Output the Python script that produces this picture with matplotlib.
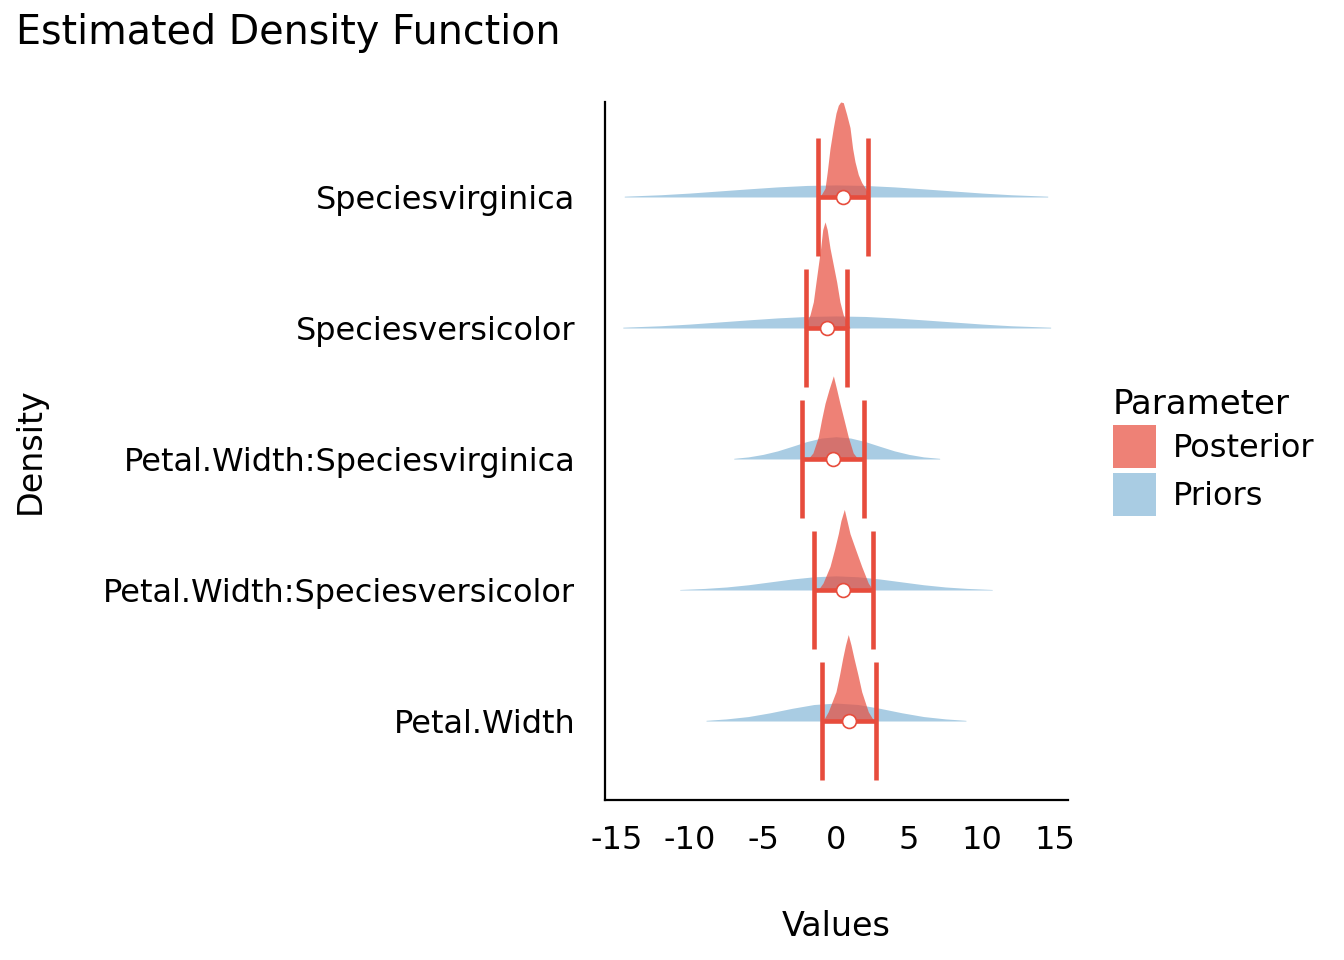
import matplotlib
matplotlib.use("Agg")
import matplotlib.pyplot as plt
from matplotlib.patches import Patch

plt.rcParams['font.family'] = ['DejaVu Sans']
plt.rcParams['axes.unicode_minus'] = False

# ---------------- data ----------------
parameters = ["Petal.Width", "Petal.Width:Speciesversicolor",
              "Petal.Width:Speciesvirginica", "Speciesversicolor",
              "Speciesvirginica"]

# priors: x (values) and scaled density height (1 = row spacing)
prior_x = {
    "Speciesvirginica": [-14.5, -12, -10, -8, -6, -4, -2, 0, 2, 4, 6, 8, 10, 12, 14.5],
    "Speciesversicolor": [-14.6, -12, -10, -8, -6, -4, -2, 0, 2, 4, 6, 8, 10, 12, 14.7],
    "Petal.Width:Speciesvirginica": [-7.0, -6, -5, -4, -3, -2, -1, 0, 1, 2, 3, 4, 5, 6, 7.1],
    "Petal.Width:Speciesversicolor": [-10.7, -9, -7.5, -6, -4.5, -3, -1.5, 0, 1.5, 3, 4.5, 6, 7.5, 9, 10.7],
    "Petal.Width": [-8.9, -7.5, -6, -4.5, -3, -1.5, 0, 1.5, 3, 4.5, 6, 7.5, 8.9],
}
prior_h = {
    "Speciesvirginica": [0.006, 0.017, 0.030, 0.046, 0.062, 0.077, 0.088, 0.092, 0.088, 0.077, 0.062, 0.046, 0.030, 0.017, 0.006],
    "Speciesversicolor": [0.006, 0.017, 0.030, 0.046, 0.062, 0.077, 0.088, 0.092, 0.088, 0.077, 0.062, 0.046, 0.030, 0.017, 0.006],
    "Petal.Width:Speciesvirginica": [0.005, 0.016, 0.035, 0.062, 0.097, 0.133, 0.160, 0.170, 0.160, 0.133, 0.097, 0.062, 0.035, 0.016, 0.005],
    "Petal.Width:Speciesversicolor": [0.004, 0.012, 0.023, 0.040, 0.062, 0.084, 0.101, 0.108, 0.101, 0.084, 0.062, 0.040, 0.023, 0.012, 0.004],
    "Petal.Width": [0.005, 0.016, 0.034, 0.063, 0.097, 0.126, 0.137, 0.126, 0.097, 0.063, 0.034, 0.016, 0.005],
}

# posteriors
post_x = {
    "Speciesvirginica": [-1.10, -0.75, -0.60, -0.41, -0.18, 0.0, 0.16, 0.32, 0.50, 0.73, 0.96, 1.14, 1.30, 1.53, 1.76, 1.99, 2.33],
    "Speciesversicolor": [-2.19, -1.78, -1.55, -1.37, -1.21, -1.05, -0.91, -0.75, -0.60, -0.41, -0.18, 0.05, 0.27, 0.50, 0.96],
    "Petal.Width:Speciesvirginica": [-1.92, -1.58, -1.21, -0.99, -0.75, -0.48, -0.18, 0.05, 0.27, 0.55, 0.84, 1.18, 1.51],
    "Petal.Width:Speciesversicolor": [-1.23, -0.89, -0.41, -0.10, 0.16, 0.34, 0.57, 0.75, 0.96, 1.34, 1.76, 2.21, 2.53],
    "Petal.Width": [-0.89, -0.53, 0.0, 0.24, 0.46, 0.65, 0.84, 1.03, 1.23, 1.51, 1.76, 2.21, 2.60],
}
post_h = {
    "Speciesvirginica": [0, 0.066, 0.19, 0.37, 0.53, 0.64, 0.70, 0.725, 0.72, 0.63, 0.53, 0.37, 0.27, 0.17, 0.11, 0.07, 0],
    "Speciesversicolor": [0, 0.10, 0.20, 0.35, 0.48, 0.61, 0.75, 0.81, 0.75, 0.61, 0.48, 0.35, 0.20, 0.10, 0],
    "Petal.Width:Speciesvirginica": [0, 0.046, 0.17, 0.30, 0.425, 0.53, 0.635, 0.53, 0.425, 0.30, 0.17, 0.046, 0],
    "Petal.Width:Speciesversicolor": [0, 0.053, 0.18, 0.31, 0.43, 0.53, 0.615, 0.53, 0.43, 0.31, 0.18, 0.053, 0],
    "Petal.Width": [0, 0.071, 0.224, 0.35, 0.48, 0.58, 0.66, 0.58, 0.48, 0.35, 0.224, 0.071, 0],
}

# point estimates and credible intervals
ci_low = [-0.96, -1.53, -2.35, -2.08, -1.21]
ci_high = [2.76, 2.55, 1.94, 0.77, 2.21]
point_est = [0.87, 0.50, -0.23, -0.64, 0.46]

x_ticks = [-15, -10, -5, 0, 5, 10, 15]

# ---------------- style ----------------
post_color = "#E74C3C"
prior_color = "#2980B9"

fig = plt.figure(figsize=(13.44, 9.6), dpi=100)
ax = fig.add_axes([605/1344, 1-800/960, (1068-605)/1344, (800-102)/960])

for i, p in enumerate(parameters):
    base = i + 1
    px = prior_x[p]
    ph = [base + h for h in prior_h[p]]
    ax.fill_between(px, base, ph, color=prior_color, alpha=0.4, linewidth=0, zorder=1)

for i, p in enumerate(parameters):
    base = i + 1
    qx = post_x[p]
    qh = [base + h for h in post_h[p]]
    ax.fill_between(qx, base, qh, color=post_color, alpha=0.7, linewidth=0, zorder=2)

ys = [i + 1 for i in range(len(parameters))]
cap = 0.447
ax.hlines(ys, ci_low, ci_high, color=post_color, linewidth=3.3, zorder=3)
ax.vlines(ci_low, [y - cap for y in ys], [y + cap for y in ys], color=post_color, linewidth=3.3, zorder=3)
ax.vlines(ci_high, [y - cap for y in ys], [y + cap for y in ys], color=post_color, linewidth=3.3, zorder=3)
ax.plot(point_est, ys, 'o', markersize=10, markerfacecolor='white',
        markeredgecolor=post_color, markeredgewidth=1.2, linestyle='none', zorder=4)

ax.set_xlim(-15.82, 15.89)
ax.set_ylim(0.397, 5.725)
ax.set_xticks(x_ticks)
ax.set_xticklabels([str(t) for t in x_ticks])
ax.set_yticks(ys)
ax.set_yticklabels(parameters)
ax.tick_params(axis='both', length=0, labelsize=23, colors='black')
ax.tick_params(axis='y', pad=21.5)
ax.tick_params(axis='x', pad=18)
for s in ['top', 'right']:
    ax.spines[s].set_visible(False)
for s in ['left', 'bottom']:
    ax.spines[s].set_linewidth(1.6)
    ax.spines[s].set_color('black')

fig.text(16/1344, 1-44/960, "Estimated Density Function", fontsize=28.5, ha='left', va='baseline')
fig.text(30/1344, 1-451/960, "Density", fontsize=24, rotation=90, ha='center', va='center')
fig.text(836/1344, 1-927/960, "Values", fontsize=24, ha='center', va='center')

handles = [Patch(facecolor=post_color, alpha=0.7, edgecolor='none', label="Posterior"),
           Patch(facecolor=prior_color, alpha=0.4, edgecolor='none', label="Priors")]
leg = fig.legend(handles=handles, title="Parameter", loc='center left',
                 bbox_to_anchor=(1113/1344, 1-452/960), frameon=False,
                 fontsize=23, title_fontsize=24.5, handlelength=1.35, handleheight=1.7,
                 handletextpad=0.53, labelspacing=0.13, borderpad=0, borderaxespad=0,
                 alignment='left')

fig.savefig("out.png", dpi=100)
